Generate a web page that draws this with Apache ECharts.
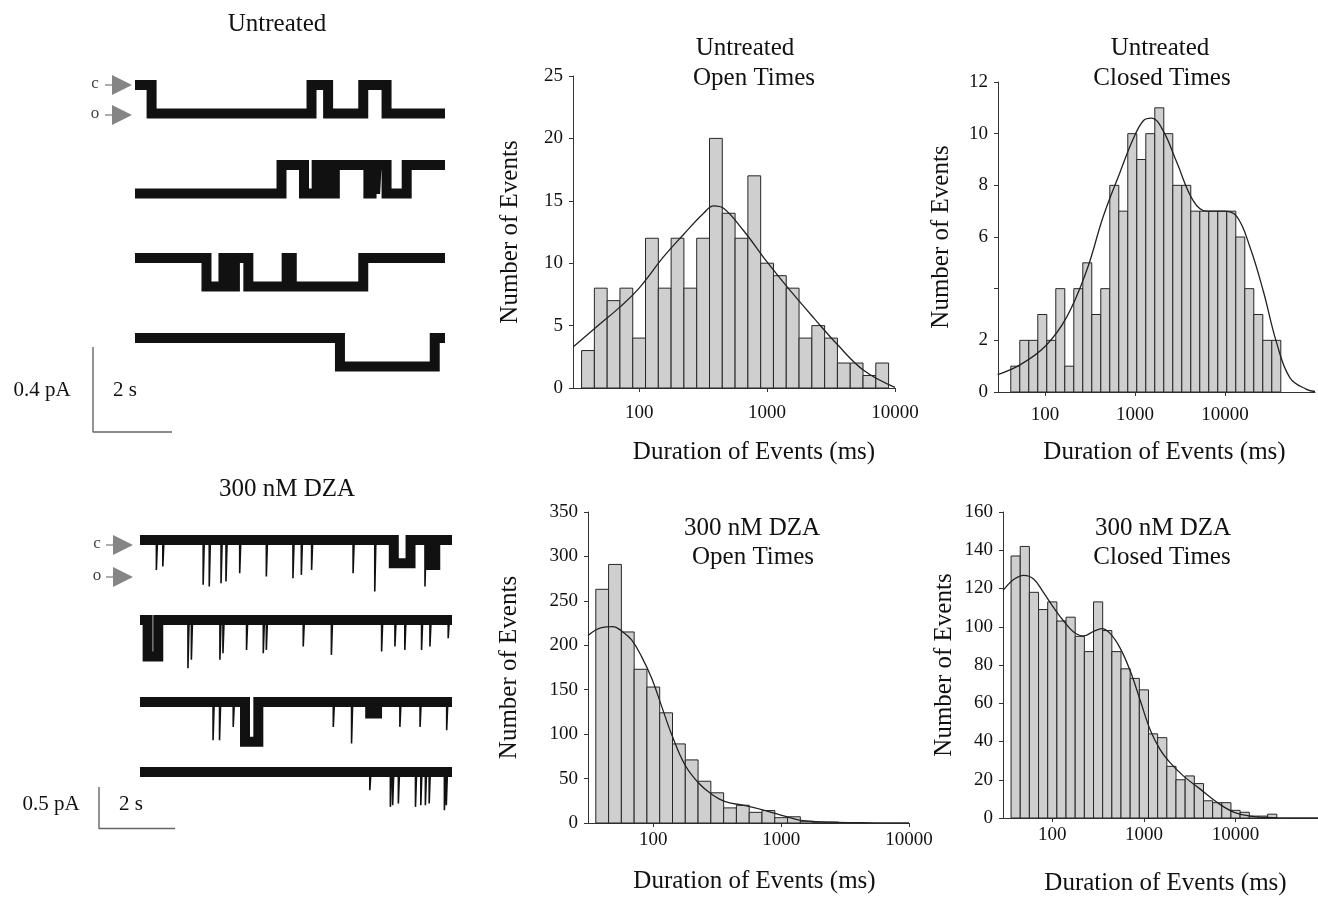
<!DOCTYPE html>
<html>
<head>
<meta charset="utf-8">
<script src="https://cdn.jsdelivr.net/npm/echarts@6/dist/echarts.min.js"></script>
<style>
  html, body { margin: 0; padding: 0; background: #fff; }
  #main { width: 1318px; height: 897px; }
</style>
</head>
<body>
<div id="main"></div>
<script>
// ---- histograms: bins are 0.1 log10(ms) wide, first bin edge in log10(ms)
var binWidth = 0.1;

var openUntreatedStart = 1.55;
var openUntreatedCounts = [3, 8, 7, 8, 4, 12, 8, 12, 8, 12, 20, 14, 12, 17, 10, 9, 8, 4, 5, 4, 2, 2, 1, 2];
var openUntreatedFitX = [1.486, 1.668, 1.851, 2.0, 2.19, 2.347, 2.504, 2.582, 2.66, 2.817, 3.0, 3.157, 3.366, 3.548, 3.757, 4.0];
var openUntreatedFitY = [3.3, 4.9, 6.5, 8.0, 10.5, 12.3, 14.0, 14.6, 14.4, 12.6, 10.1, 8.1, 5.6, 3.5, 1.4, 0.05];

var closedUntreatedStart = 1.62;
var closedUntreatedCounts = [1, 2, 2, 3, 2, 4, 1, 4, 5, 3, 4, 8, 7, 10, 9, 10, 11, 10, 8, 8, 7, 7, 7, 7, 7, 6, 4, 3, 2, 2];
var closedUntreatedFitX = [1.474, 1.722, 2.0, 2.241, 2.463, 2.648, 2.833, 2.981, 3.093, 3.185, 3.315, 3.463, 3.648, 3.796, 3.981, 4.13, 4.278, 4.426, 4.574, 4.722, 4.907, 5.0];
var closedUntreatedFitY = [0.67, 1.05, 1.76, 2.9, 4.7, 6.8, 8.5, 9.8, 10.5, 10.6, 10.1, 8.9, 7.4, 7.0, 7.0, 6.8, 5.6, 3.9, 1.9, 0.55, 0.1, 0.02];

var openDzaStart = 1.55;
var openDzaCounts = [263, 291, 215, 173, 153, 124, 89, 71, 47, 34, 17, 20, 12, 14, 6, 7, 2, 1, 1];
var openDzaFitX = [1.489, 1.595, 1.686, 1.752, 1.830, 1.909, 1.987, 2.066, 2.145, 2.249, 2.354, 2.459, 2.563, 2.720, 2.877, 3.035, 3.152, 3.39, 3.62, 4.0];
var openDzaFitY = [211, 220, 221, 216, 206, 187, 163, 131, 99, 65, 45, 32, 24, 19.5, 14, 7.5, 3, 1, 0.3, 0];

var closedDzaStart = 1.55;
var closedDzaCounts = [137, 142, 118, 109, 113, 103, 105, 95, 87, 113, 98, 87, 78, 73, 67, 44, 42, 27, 20, 22, 18, 9, 8, 8, 4, 3, 1, 1, 2];
var closedDzaFitX = [1.462, 1.498, 1.578, 1.687, 1.796, 1.905, 2.015, 2.124, 2.233, 2.342, 2.451, 2.542, 2.633, 2.742, 2.852, 2.961, 3.07, 3.179, 3.288, 3.433, 3.615, 3.797, 3.978, 4.16, 4.34, 4.6, 4.9];
var closedDzaFitY = [119, 121, 124.7, 126.9, 125, 117.8, 110, 103, 97.3, 95.2, 97.6, 99, 96.4, 88.7, 76.7, 61.3, 45.9, 35.6, 28.8, 21.9, 15.1, 8.2, 3.1, 1, 0.3, 0, 0];

var xTickLogs = [2, 3, 4];

// ---- single-channel records: [start s, end s, state] (0 closed, 1 open)
var untreatedOpenAmp = 0.135; // pA
var untreatedLength = 7.85;   // s
var untreated1 = [[0, 0.42, 0], [0.42, 4.47, 1], [4.47, 4.89, 0], [4.89, 5.78, 1], [5.78, 6.37, 0], [6.37, 7.85, 1]];
var untreated2 = [[0, 3.71, 1], [3.71, 4.28, 0], [4.28, 4.60, 1], [4.60, 4.85, 0], [4.85, 5.06, 1], [5.06, 5.91, 0],
                  [5.91, 5.99, 1], [5.99, 6.08, 0], [6.08, 6.12, 1], [6.12, 6.37, 0], [6.37, 6.88, 1], [6.88, 7.85, 0]];
var untreated3 = [[0, 1.81, 0], [1.81, 2.24, 1], [2.24, 2.32, 0], [2.32, 2.53, 1], [2.53, 2.87, 0], [2.87, 3.84, 1],
                  [3.84, 3.97, 0], [3.97, 5.78, 1], [5.78, 7.85, 0]];
var untreated4 = [[0, 5.19, 0], [5.19, 7.59, 1], [7.59, 7.85, 0]];

// DZA records: openings as [start s, end s, depth pA] on the closed baseline
var dzaLength = 8.2; // s
var dza1 = [[0.43, 0.46, 0.36], [0.60, 0.63, 0.32], [1.66, 1.69, 0.54], [1.82, 1.85, 0.56], [2.13, 2.16, 0.52], [2.26, 2.29, 0.50],
            [2.62, 2.65, 0.40], [3.32, 3.35, 0.44], [4.02, 4.05, 0.46], [4.24, 4.27, 0.42], [4.51, 4.54, 0.36], [5.60, 5.63, 0.40],
            [6.17, 6.20, 0.62], [6.67, 7.11, 0.28], [7.49, 7.52, 0.56], [7.62, 7.76, 0.30]];
var dza2 = [[0.20, 0.48, 0.44], [1.26, 1.29, 0.58], [1.35, 1.38, 0.48], [2.10, 2.13, 0.48], [2.18, 2.21, 0.40], [2.80, 2.83, 0.36],
            [3.24, 3.27, 0.40], [3.32, 3.35, 0.36], [4.29, 4.32, 0.32], [5.03, 5.06, 0.42], [6.35, 6.38, 0.38], [6.70, 6.73, 0.32],
            [6.96, 6.99, 0.36], [7.40, 7.43, 0.36], [7.62, 7.65, 0.32], [8.10, 8.13, 0.22]];
var dza3 = [[1.92, 1.95, 0.46], [2.09, 2.12, 0.46], [2.45, 2.48, 0.30], [2.76, 3.11, 0.48], [5.08, 5.11, 0.30], [5.56, 5.59, 0.50],
            [6.05, 6.23, 0.14], [6.83, 6.86, 0.30], [7.36, 7.39, 0.30], [8.06, 8.09, 0.34]];
var dza4 = [[6.04, 6.07, 0.22], [6.58, 6.61, 0.42], [6.64, 6.67, 0.40], [6.79, 6.82, 0.38], [7.24, 7.27, 0.42], [7.38, 7.41, 0.40],
            [7.50, 7.53, 0.40], [7.60, 7.63, 0.38], [8.00, 8.03, 0.46], [8.05, 8.08, 0.40]];

// scale bars
var scaleTime = 2;           // s
var scaleUntreatedAmp = 0.4; // pA
var scaleDzaAmp = 0.5;       // pA

var serif = '"Liberation Serif", "DejaVu Serif", serif';
var chart = echarts.init(document.getElementById('main'));

function bins(start, counts) {
  return counts.map(function (c, i) { return [start + i * binWidth, c]; });
}
function zip(xs, ys) {
  return xs.map(function (x, i) { return [x, ys[i]]; });
}
function barItem(params, api) {
  var x0 = api.value(0);
  var p0 = api.coord([x0, api.value(1)]);
  var p1 = api.coord([x0 + binWidth, 0]);
  return {
    type: 'rect',
    shape: { x: p0[0], y: p0[1], width: p1[0] - p0[0], height: p1[1] - p0[1] },
    style: { fill: '#cfcfcf', stroke: '#262626', lineWidth: 1 }
  };
}

// untreated: state segments -> step line
function stepLine(segs, amp) {
  var pts = [];
  segs.forEach(function (s) {
    var lv = -s[2] * amp;
    pts.push([s[0], lv], [s[1], lv]);
  });
  return pts;
}
// DZA: long openings go in the thick band, brief ones become thin spikes
function dzaBand(events, len) {
  var pts = [[0, 0]];
  events.forEach(function (e) {
    if (e[1] - e[0] >= 0.1) pts.push([e[0], 0], [e[0], -e[2]], [e[1], -e[2]], [e[1], 0]);
  });
  pts.push([len, 0]);
  return pts;
}
function dzaSpikes(events) {
  var pts = [];
  events.forEach(function (e) {
    if (e[1] - e[0] < 0.1) pts.push([e[0], 0], [e[0], -e[2]], [e[1], -e[2]], [e[1], 0], [e[1], null]);
  });
  return pts;
}

var grids = [], xAxes = [], yAxes = [], series = [];

var axisColor = '#333';
var labelStyle = { fontFamily: serif, fontSize: 19, color: '#111' };
var nameStyle = { fontFamily: serif, fontSize: 25, color: '#111' };

function addHist(box, xMin, xMax, yMax, yInt, xGap, xPad, yGap, xLabelMargin, counts, start, fitX, fitY, hideLabel) {
  var gi = grids.length;
  grids.push(box);
  xAxes.push({
    gridIndex: gi, type: 'value', min: xMin, max: xMax,
    name: 'Duration of Events (ms)', nameLocation: 'middle', nameGap: xGap,
    nameTextStyle: Object.assign({ padding: [0, 0, 0, xPad] }, nameStyle),
    axisLine: { lineStyle: { color: axisColor, width: 1 } },
    axisTick: { customValues: xTickLogs, length: 4, lineStyle: { color: axisColor } },
    axisLabel: Object.assign({
      customValues: xTickLogs, margin: xLabelMargin,
      formatter: function (v) { return String(Math.round(Math.pow(10, v))); }
    }, labelStyle),
    splitLine: { show: false }
  });
  yAxes.push({
    gridIndex: gi, type: 'value', min: 0, max: yMax, interval: yInt,
    name: 'Number of Events', nameLocation: 'middle', nameRotate: 90, nameGap: yGap,
    nameTextStyle: nameStyle,
    axisLine: { show: true, lineStyle: { color: axisColor, width: 1 } },
    axisTick: { show: true, length: 4, lineStyle: { color: axisColor } },
    axisLabel: Object.assign({
      margin: 10,
      formatter: function (v) { return v === hideLabel ? '' : String(v); }
    }, labelStyle),
    splitLine: { show: false }
  });
  series.push({
    type: 'custom', xAxisIndex: gi, yAxisIndex: gi, renderItem: barItem,
    data: bins(start, counts), silent: true, z: 2
  });
  series.push({
    type: 'line', xAxisIndex: gi, yAxisIndex: gi, data: zip(fitX, fitY),
    smooth: 0.4, symbol: 'none', silent: true, z: 3,
    lineStyle: { color: '#222', width: 1.3 }
  });
}

addHist({ left: 573, top: 76, width: 322, height: 312 }, 1.483, 4.0, 25, 5, 52, 40, 50, 16,
  openUntreatedCounts, openUntreatedStart, openUntreatedFitX, openUntreatedFitY, null);
addHist({ left: 998, top: 82, width: 317, height: 310 }, 1.478, 5.0, 12, 2, 48, 16, 44, 14,
  closedUntreatedCounts, closedUntreatedStart, closedUntreatedFitX, closedUntreatedFitY, 4);
addHist({ left: 588, top: 512, width: 321, height: 311 }, 1.489, 4.0, 350, 50, 46, 12, 66, 8,
  openDzaCounts, openDzaStart, openDzaFitX, openDzaFitY, null);
addHist({ left: 1003, top: 512, width: 315, height: 311 }, 1.462, 4.9, 160, 20, 53, 10, 46, 8,
  closedDzaCounts, closedDzaStart, closedDzaFitX, closedDzaFitY, null);

function addTrace(box, xMax, yMin, yMax, bandPts, spikePts) {
  var gi = grids.length;
  grids.push(box);
  xAxes.push({ gridIndex: gi, type: 'value', min: 0, max: xMax, show: false });
  yAxes.push({ gridIndex: gi, type: 'value', min: yMin, max: yMax, show: false });
  series.push({
    type: 'line', xAxisIndex: gi, yAxisIndex: gi, data: bandPts, symbol: 'none', clip: false, silent: true,
    lineStyle: { color: '#111', width: 10, cap: 'butt', join: 'miter' }
  });
  if (spikePts) {
    series.push({
      type: 'line', xAxisIndex: gi, yAxisIndex: gi, data: spikePts, symbol: 'none', clip: false, silent: true,
      connectNulls: false, lineStyle: { color: '#111', width: 1.6 }
    });
  }
}

// untreated rows: 212 px per pA, y range [-0.2, 0.1]
var untreatedRows = [85, 165, 258, 338];
[untreated1, untreated2, untreated3, untreated4].forEach(function (segs, i) {
  addTrace({ left: 135, top: untreatedRows[i] - 21.2, width: 310, height: 63.6 }, untreatedLength, -0.2, 0.1,
    stepLine(segs, untreatedOpenAmp), null);
});
// DZA rows: 83 px per pA, y range [-0.7, 0.2]
var dzaRows = [540, 620, 702, 772];
[dza1, dza2, dza3, dza4].forEach(function (ev, i) {
  addTrace({ left: 140, top: dzaRows[i] - 16.6, width: 312, height: 74.7 }, dzaLength, -0.7, 0.2,
    dzaBand(ev, dzaLength), dzaSpikes(ev));
});

function addScaleBar(box, t, amp) {
  var gi = grids.length;
  grids.push(box);
  xAxes.push({ gridIndex: gi, type: 'value', min: 0, max: t, show: false });
  yAxes.push({ gridIndex: gi, type: 'value', min: 0, max: amp, show: false });
  series.push({
    type: 'line', xAxisIndex: gi, yAxisIndex: gi, data: [[0, amp], [0, 0], [t, 0]],
    symbol: 'none', clip: false, silent: true, lineStyle: { color: '#666', width: 1.4 }
  });
}
addScaleBar({ left: 93, top: 347, width: 79, height: 85 }, scaleTime, scaleUntreatedAmp);
addScaleBar({ left: 99, top: 787, width: 76, height: 41.5 }, scaleTime, scaleDzaAmp);

function txt(x, y, s, size, color) {
  return {
    type: 'text', x: x, y: y, silent: true,
    style: { text: s, fontFamily: serif, fontSize: size, fill: color || '#111', align: 'center', verticalAlign: 'middle' }
  };
}
function arrow(x, y) {
  return [
    { type: 'line', silent: true, shape: { x1: x - 7, y1: y, x2: x, y2: y }, style: { stroke: '#777', lineWidth: 1.2 } },
    { type: 'polygon', silent: true, shape: { points: [[x, y - 10], [x + 20, y], [x, y + 10]] }, style: { fill: '#858585' } }
  ];
}

var graphics = [
  txt(277, 24, 'Untreated', 25),
  txt(287, 489, '300 nM DZA', 25),
  txt(95, 84, 'c', 17, '#444'), txt(95, 114, 'o', 17, '#444'),
  txt(97, 544, 'c', 17, '#444'), txt(97, 576, 'o', 17, '#444'),
  txt(42, 390, '0.4 pA', 21), txt(125, 390, '2 s', 21),
  txt(51, 804, '0.5 pA', 21), txt(131, 804, '2 s', 21),
  txt(745, 48, 'Untreated', 25), txt(754, 78, 'Open Times', 25),
  txt(1160, 48, 'Untreated', 25), txt(1162, 78, 'Closed Times', 25),
  txt(752, 528, '300 nM DZA', 25), txt(753, 557, 'Open Times', 25),
  txt(1163, 528, '300 nM DZA', 25), txt(1162, 557, 'Closed Times', 25)
].concat(arrow(112, 85), arrow(112, 115), arrow(113, 545), arrow(113, 577));

chart.setOption({
  animation: false,
  backgroundColor: '#fff',
  grid: grids,
  xAxis: xAxes,
  yAxis: yAxes,
  series: series,
  graphic: graphics
});
</script>
</body>
</html>
